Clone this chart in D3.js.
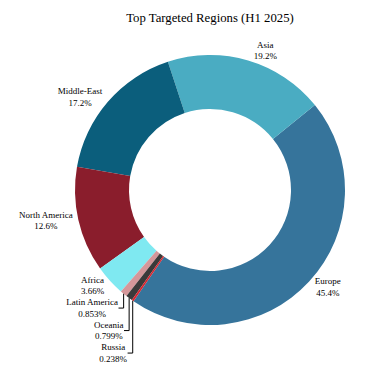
<!DOCTYPE html>
<html>
<head>
<meta charset="utf-8">
<script src="https://cdn.jsdelivr.net/npm/d3@7"></script>
<style>
  html, body { margin: 0; padding: 0; background: #fff; }
  svg { display: block; font-family: "Liberation Serif", "Times New Roman", serif; }
</style>
</head>
<body>
<script>
'use strict';

// chart data
const title = 'Top Targeted Regions (H1 2025)';
const regions = ['Europe', 'Asia', 'Middle-East', 'North America', 'Africa', 'Latin America', 'Oceania', 'Russia'];
const shares = [45.4, 19.2, 17.2, 12.6, 3.66, 0.853, 0.799, 0.238];
const colors = ['#36749b', '#4aacc2', '#0b5e7c', '#8a1d2c', '#7fe9f1', '#d4979a', '#3a3a3a', '#d42630'];

const width = 375, height = 371;
const cx = 210, cy = 190;
const outerR = 135, innerR = 81;
const startDeg = 214.5; // slices run counterclockwise from here
const fontSize = 9, lineH = 11.5, boxH = 22.5;

const svg = d3.select('body').append('svg')
  .attr('width', width)
  .attr('height', height)
  .attr('viewBox', [0, 0, width, height]);

svg.append('text')
  .attr('x', 210)
  .attr('y', 22)
  .attr('text-anchor', 'middle')
  .attr('font-size', 12.75)
  .attr('fill', '#000')
  .text(title);

const start = startDeg * Math.PI / 180;
const pie = d3.pie().sort(null).value(d => d).startAngle(start).endAngle(start - 2 * Math.PI);
const arcs = pie(shares);
const arc = d3.arc().innerRadius(innerR).outerRadius(outerR);

const g = svg.append('g').attr('transform', `translate(${cx},${cy})`);

g.selectAll('path')
  .data(arcs)
  .join('path')
    .attr('d', arc)
    .attr('fill', (d, i) => colors[i]);

// outside labels, placed the way plotly does it
const fmt = d3.format('.3r');
let prevLeftBottom = -Infinity;

arcs.forEach((d, i) => {
  const mid = (d.startAngle + d.endAngle) / 2;
  const px = outerR * Math.sin(mid), py = -outerR * Math.cos(mid);

  const t = g.append('text')
    .attr('font-size', fontSize)
    .attr('text-anchor', 'middle')
    .attr('fill', '#000');
  t.append('tspan').text(regions[i]);
  t.append('tspan').text(fmt(shares[i]) + '%');
  const w = d3.max(t.selectAll('tspan').nodes(), n => n.getComputedTextLength());

  let dx = w / 2, dy = boxH / 2;
  if (px < 0) dx = -dx;
  if (py < 0) dy = -dy;
  const bx = px + dx + Math.abs(dy) * Math.sign(dx) / 2;
  let by = py + dy / (1 + (px * px) / (py * py));
  let leader = false;

  if (px < 0 && py > 0) {
    // lower left: push labels down so blocks do not overlap
    if (by - boxH / 2 < prevLeftBottom) {
      by = prevLeftBottom + boxH / 2;
      leader = true;
    }
    prevLeftBottom = by + boxH / 2;
  }

  t.selectAll('tspan')
    .attr('x', bx)
    .attr('y', (_, k) => by - 2.6 + k * lineH);

  if (leader) {
    g.append('path')
      .attr('d', `M${px},${py}V${by}H${bx + w / 2 + 0.5}`)
      .attr('fill', 'none')
      .attr('stroke', '#000')
      .attr('stroke-width', 1);
  }
});
</script>
</body>
</html>
